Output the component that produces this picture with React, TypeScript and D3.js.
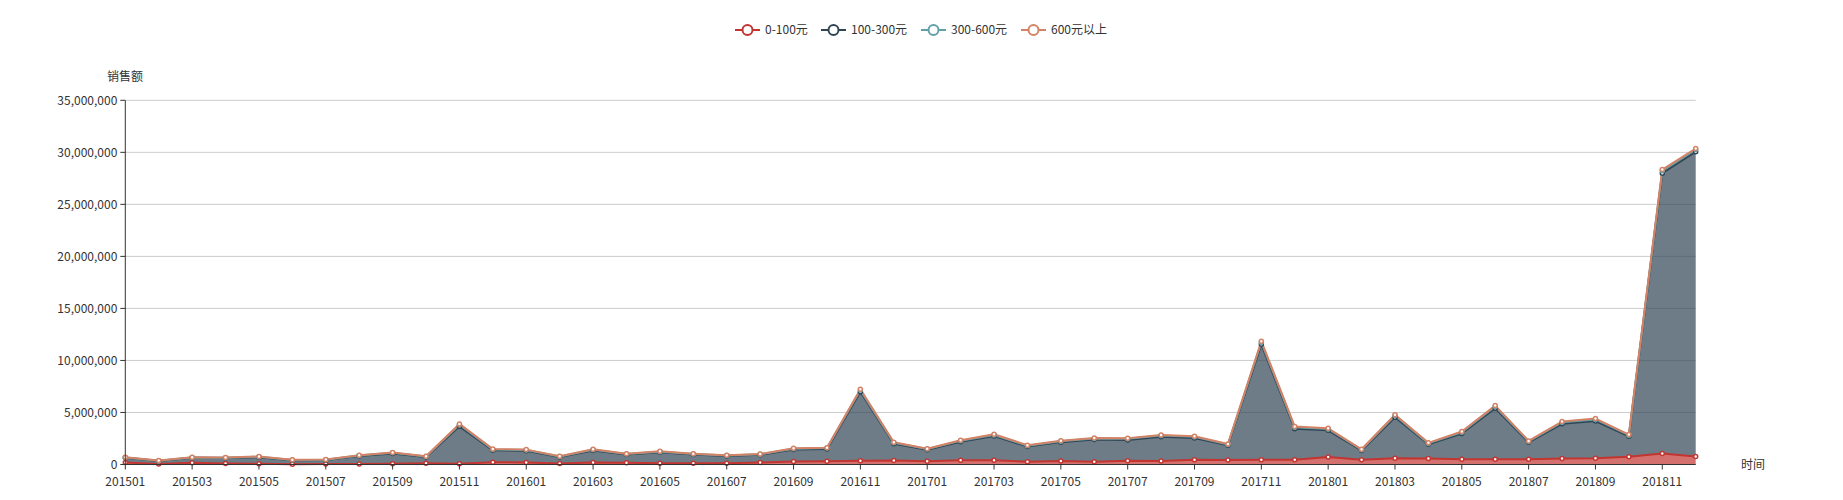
import React from "react";
import * as d3 from "d3";

const months: string[] = [
  "201501","201502","201503","201504","201505","201506","201507","201508","201509","201510","201511","201512",
  "201601","201602","201603","201604","201605","201606","201607","201608","201609","201610","201611","201612",
  "201701","201702","201703","201704","201705","201706","201707","201708","201709","201710","201711","201712",
  "201801","201802","201803","201804","201805","201806","201807","201808","201809","201810","201811","201812",
];

const seriesNames: string[] = ["0-100元", "100-300元", "300-600元", "600元以上"];
const seriesColors: string[] = ["#c23531", "#2f4554", "#61a0a8", "#d48265"];

const s0to100: number[] = [
  190000, 50000, 160000, 100000, 70000, 30000, 50000, 50000, 70000, 130000, 70000, 220000,
  190000, 100000, 190000, 160000, 130000, 130000, 130000, 190000, 290000, 320000, 350000, 380000,
  320000, 400000, 400000, 270000, 330000, 270000, 370000, 330000, 460000, 430000, 460000, 460000,
  720000, 450000, 600000, 580000, 510000, 510000, 510000, 580000, 600000, 740000, 1060000, 770000,
];
const s100to300: number[] = [
  450000, 295000, 480000, 520000, 630000, 375000, 385000, 775000, 990000, 600000, 3600000, 1160000,
  1130000, 620000, 1160000, 795000, 1045000, 825000, 675000, 735000, 1155000, 1175000, 6650000, 1610000,
  1090000, 1790000, 2330000, 1455000, 1820000, 2125000, 1995000, 2340000, 2095000, 1415000, 11090000, 2980000,
  2560000, 900000, 3940000, 1360000, 2475000, 4890000, 1620000, 3335000, 3580000, 1970000, 26940000, 29290000,
];
const s300to600: number[] = [
  40000, 25000, 40000, 40000, 45000, 30000, 30000, 50000, 60000, 45000, 150000, 70000,
  70000, 45000, 70000, 55000, 60000, 55000, 50000, 55000, 75000, 80000, 150000, 90000,
  70000, 90000, 110000, 80000, 90000, 100000, 100000, 110000, 100000, 80000, 200000, 130000,
  130000, 70000, 160000, 90000, 120000, 170000, 90000, 140000, 150000, 110000, 220000, 200000,
];
const s600plus: number[] = [
  20000, 10000, 20000, 20000, 25000, 15000, 15000, 25000, 30000, 25000, 80000, 40000,
  40000, 25000, 40000, 30000, 35000, 30000, 25000, 30000, 40000, 45000, 80000, 50000,
  40000, 50000, 60000, 45000, 50000, 55000, 55000, 60000, 55000, 45000, 100000, 70000,
  70000, 40000, 80000, 50000, 65000, 90000, 50000, 75000, 80000, 60000, 120000, 100000,
];

const yTicks: number[] = [0, 5000000, 10000000, 15000000, 20000000, 25000000, 30000000, 35000000];

const FONT = "'Microsoft YaHei', 'Noto Sans CJK SC', sans-serif";

export default function App() {
  const W = 1843, H = 500;
  const left = 125.3, right = 1695.7, top = 100.3, bottom = 464.5;

  const x = d3.scaleLinear().domain([0, months.length - 1]).range([left, right]);
  const y = d3.scaleLinear().domain([0, 35000000]).range([bottom, top]);

  const allSeries = [s0to100, s100to300, s300to600, s600plus];
  const table = months.map((m, i) => {
    const row: any = { month: m, idx: i };
    seriesNames.forEach((n, k) => (row[n] = allSeries[k][i]));
    return row;
  });
  const stacked = d3.stack<any>().keys(seriesNames)(table);

  const area = d3
    .area<any>()
    .x((d) => x(d.data.idx))
    .y0((d) => y(d[0]))
    .y1((d) => y(d[1]));
  const line = d3
    .line<any>()
    .x((d) => x(d.data.idx))
    .y((d) => y(d[1]));

  const fmt = d3.format(",");

  const legendX = [735, 821, 921, 1021];

  return (
    <svg
      width={W}
      height={H}
      style={{ position: "absolute", left: 0, top: 0, background: "#fff" }}
      fontFamily={FONT}
    >
      {/* grid lines */}
      {yTicks.map((t) => (
        <line key={"g" + t} x1={left} x2={right} y1={y(t)} y2={y(t)} stroke="#ccc" strokeWidth={1} />
      ))}

      {/* areas */}
      {stacked.map((s, k) => (
        <path key={"a" + k} d={area(s) || ""} fill={seriesColors[k]} fillOpacity={0.7} stroke="none" />
      ))}
      {/* lines */}
      {stacked.map((s, k) => (
        <path key={"l" + k} d={line(s) || ""} fill="none" stroke={seriesColors[k]} strokeWidth={2} strokeLinejoin="round" />
      ))}
      {/* symbols */}
      {stacked.map((s, k) => (
        <g key={"p" + k}>
          {s.map((d: any, i: number) => (
            <circle key={i} cx={x(d.data.idx)} cy={y(d[1])} r={2} fill="#fff" stroke={seriesColors[k]} strokeWidth={1.5} />
          ))}
        </g>
      ))}

      {/* y axis */}
      <line x1={left} x2={left} y1={top} y2={bottom} stroke="#333" strokeWidth={1} />
      {yTicks.map((t) => (
        <g key={"yt" + t}>
          <line x1={left - 5} x2={left} y1={y(t)} y2={y(t)} stroke="#333" />
          <text x={left - 8} y={y(t)} dy="0.35em" textAnchor="end" fontSize={12} fill="#333">
            {fmt(t)}
          </text>
        </g>
      ))}
      <text x={125} y={77} dy="0.35em" textAnchor="middle" fontSize={12} fill="#333">
        销售额
      </text>

      {/* x axis */}
      <line x1={left} x2={right} y1={bottom} y2={bottom} stroke="#333" strokeWidth={1} />
      {months.map((m, i) =>
        i % 2 === 0 ? (
          <g key={"xt" + m}>
            <line x1={x(i)} x2={x(i)} y1={bottom} y2={bottom + 5} stroke="#333" />
            <text x={x(i)} y={bottom + 13} dy="0.71em" textAnchor="middle" fontSize={12} fill="#333">
              {m}
            </text>
          </g>
        ) : null
      )}
      <text x={1741} y={465} dy="0.35em" textAnchor="start" fontSize={12} fill="#333">
        时间
      </text>

      {/* legend */}
      {seriesNames.map((n, k) => (
        <g key={"lg" + k} transform={`translate(${legendX[k]},30)`}>
          <line x1={0} x2={25} y1={0} y2={0} stroke={seriesColors[k]} strokeWidth={2} />
          <circle cx={12.5} cy={0} r={5} fill="#fff" stroke={seriesColors[k]} strokeWidth={2} />
          <text x={30} y={0} dy="0.35em" fontSize={12} fill="#333">
            {n}
          </text>
        </g>
      ))}
    </svg>
  );
}
